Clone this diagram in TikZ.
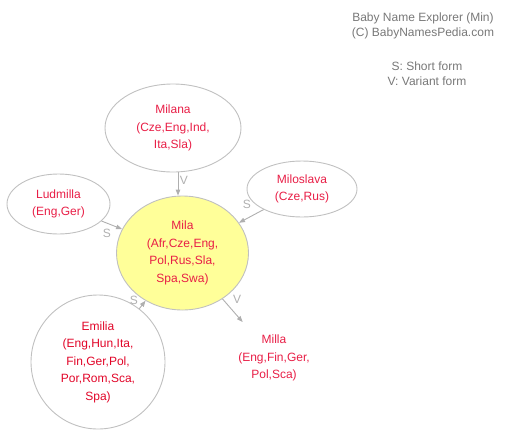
\documentclass[tikz,border=0pt]{standalone}
\usepackage{fontspec}
\setmainfont{Liberation Sans}
\usetikzlibrary{arrows.meta,shapes.geometric}
\definecolor{nodeline}{RGB}{192,192,192}
\definecolor{edgeline}{RGB}{175,175,175}
\definecolor{labgray}{RGB}{176,176,176}
\definecolor{leggray}{RGB}{120,120,120}
\definecolor{nametxt}{RGB}{232,30,70}
\definecolor{emtxt}{RGB}{225,5,40}
\definecolor{milafill}{RGB}{255,255,153}
\begin{document}
\begin{tikzpicture}[x=1pt,y=-1pt,
  txt/.style={font=\fontsize{12}{17.5}\selectfont, align=center, text=nametxt, inner sep=0pt},
  ell/.style={txt, ellipse, draw=nodeline, line width=0.9pt},
  edge/.style={draw=edgeline, line width=0.9pt, -{Triangle[length=6pt,width=4.5pt]}},
  elab/.style={font=\fontsize{12}{14}\selectfont, text=labgray, inner sep=0pt},
  legend/.style={font=\fontsize{12}{15}\selectfont, align=center, text=leggray, inner sep=0pt}]
\useasboundingbox (0,0) rectangle (512,440);
\node[legend] (title) at (423,26) {Baby Name Explorer (Min)\\(C) BabyNamesPedia.com};
\node[legend] (key) at (427,74) {S: Short form\\V: Variant form};
\node[ell, minimum width=136, minimum height=88] (milana) at (173,128) {Milana\\(Cze,Eng,Ind,\\Ita,Sla)};
\node[ell, minimum width=132, minimum height=114, fill=milafill] (mila) at (182.5,253) {Mila\\(Afr,Cze,Eng,\\Pol,Rus,Sla,\\Spa,Swa)};
\node[ell, minimum width=103, minimum height=60] (ludmilla) at (58.5,204) {Ludmilla\\(Eng,Ger)};
\node[ell, minimum width=110, minimum height=56] (miloslava) at (302,189) {Miloslava\\(Cze,Rus)};
\node[txt, circle, draw=nodeline, line width=0.9pt, minimum size=134, text=emtxt] (emilia) at (98,362) {Emilia\\(Eng,Hun,Ita,\\Fin,Ger,Pol,\\Por,Rom,Sca,\\Spa)};
\node[txt, ellipse, minimum width=128, minimum height=82] (milla) at (274,358) {Milla\\(Eng,Fin,Ger,\\Pol,Sca)};
\draw[edge] ([xshift=5]milana.south) -- ([xshift=-4.5]mila.north);
\draw[edge] (ludmilla) -- (mila);
\draw[edge] (miloslava) -- (mila);
\draw[edge] (emilia) -- (mila);
\draw[edge] (mila) -- (milla);
\node[elab] (l1) at (184,180) {V};
\node[elab] (l2) at (107,233) {S};
\node[elab] (l3) at (247,204) {S};
\node[elab] (l4) at (134,300) {S};
\node[elab] (l5) at (237,299) {V};
\end{tikzpicture}
\end{document}
